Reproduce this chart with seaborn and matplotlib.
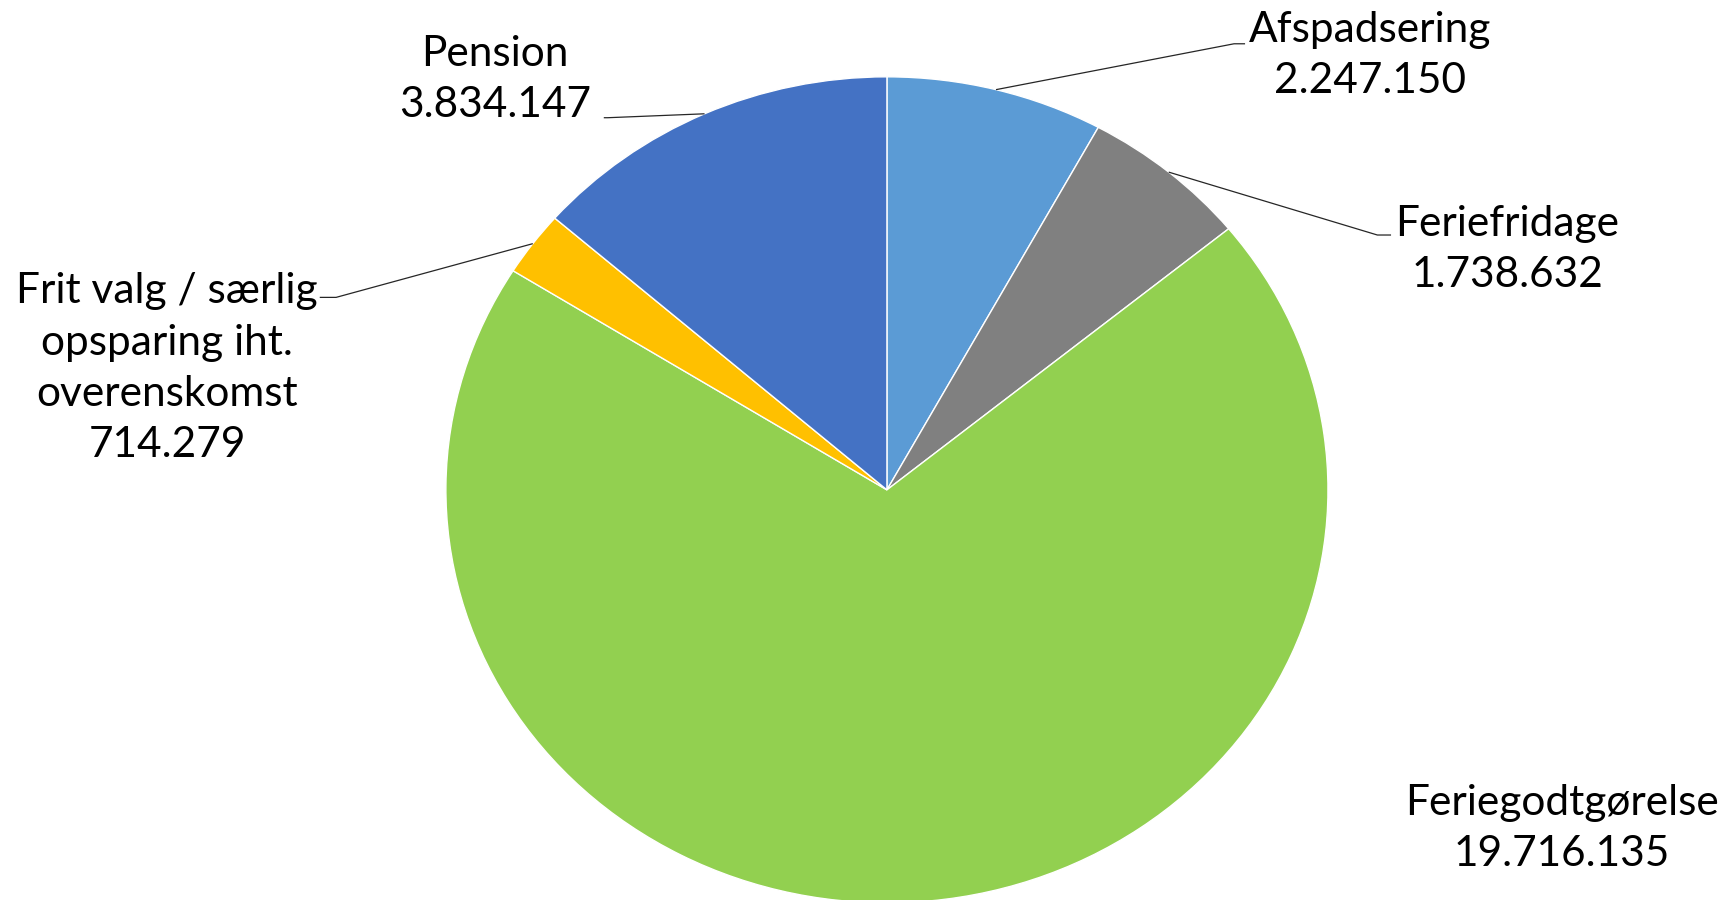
import matplotlib
matplotlib.use("Agg")
import matplotlib.pyplot as plt
import seaborn as sns
import numpy as np

categories = ["Afspadsering", "Feriefridage", "Feriegodtgørelse",
              "Frit valg / særlig\nopsparing iht.\noverenskomst", "Pension"]
values = [2247150, 1738632, 19716135, 714279, 3834147]
value_labels = ["2.247.150", "1.738.632", "19.716.135", "714.279", "3.834.147"]
colors = ["#5B9BD5", "#808080", "#92D050", "#FFC000", "#4472C4"]

sns.set_theme(style="white")
plt.rcParams['font.family'] = ['Lato', 'DejaVu Sans']

fig = plt.figure(figsize=(17.28, 9), dpi=100)
ax = fig.add_axes([0, 0, 1, 1])
wedges, _ = ax.pie(values, colors=sns.color_palette(colors), startangle=90,
                   counterclock=False, radius=1.0,
                   wedgeprops=dict(edgecolor="white", linewidth=1.0))
ax.set_aspect('auto')
ax.set_xlim(-2.011, 1.907)
ax.set_ylim(-0.993, 1.186)
ax.axis('off')

# label layout: (text center, elbow point, end point)
layout = [
    ((1.095, 1.051), (0.787, 1.080), (0.812, 1.080)),
    ((1.407, 0.581), (1.112, 0.617), (1.143, 0.617)),
    ((1.531, -0.821), None, None),
    ((-1.632, 0.295), (-1.249, 0.466), (-1.286, 0.466)),
    ((-0.889, 0.994), (-0.633, 0.901), (-0.642, 0.901)),
]

for w, cat, vl, (tpos, elbow, end) in zip(wedges, categories, value_labels, layout):
    ax.text(tpos[0], tpos[1], f"{cat}\n{vl}", ha="center", va="center",
            multialignment="center", fontsize=30.5, color="black", linespacing=1.42)
    if elbow is not None:
        mid = np.deg2rad((w.theta1 + w.theta2) / 2)
        ex, ey = w.r * np.cos(mid), w.r * np.sin(mid)
        ax.plot([ex, elbow[0], end[0]], [ey, elbow[1], end[1]],
                color="#262626", linewidth=0.9, solid_capstyle="butt")

fig.savefig("out.png", dpi=100)
